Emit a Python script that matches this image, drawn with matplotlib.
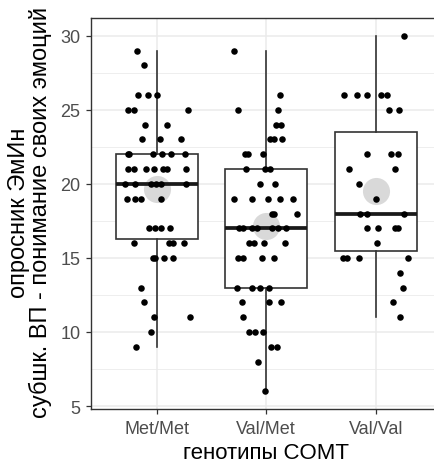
#!/usr/bin/env python3
"""Boxplot + jitter of EmIn subscale scores by COMT genotype."""
import matplotlib

matplotlib.use("Agg")
import matplotlib.pyplot as plt
import numpy as np
from matplotlib.ticker import MultipleLocator

plt.rcParams["font.family"] = ["Liberation Sans", "DejaVu Sans"]

genotypes = ["Met/Met", "Val/Met", "Val/Val"]

met_met_vals = [29, 28, 26, 26, 26, 25, 25, 25, 24, 24, 23, 23, 23,
                22, 22, 22, 22, 22, 22, 21, 21, 21, 21, 21, 21, 21,
                20, 20, 20, 20, 20, 20, 19, 19, 19, 19, 17, 17, 17, 17,
                16, 16, 16, 16, 15, 15, 15, 15, 13, 12, 11, 11, 10, 9]
met_met_jitter = [-0.18, -0.116, -0.17, -0.076, 0.003, -0.26, -0.21, 0.29, -0.11, 0.09,
                  -0.13, 0.03, 0.22, -0.26, -0.25, -0.03, 0.046, 0.13, 0.26,
                  -0.26, -0.21, -0.094, -0.027, 0.055, 0.097, 0.27,
                  -0.29, -0.2, -0.055, -0.006, 0.043, 0.27, -0.27, -0.2, -0.14, 0.037,
                  -0.07, -0.012, 0.04, 0.12, -0.21, 0.116, 0.149, 0.25,
                  -0.033, -0.02, 0.067, 0.146, -0.143, -0.12, -0.027, 0.30, -0.05, -0.186]

val_met_vals = [29, 26, 25, 25, 24, 24, 23, 23, 23, 22, 22, 22, 21, 21, 21, 20, 20,
                19, 19, 19, 19, 19, 18, 18, 18, 17, 17, 17, 17, 17, 17, 17,
                16, 16, 16, 16, 15, 15, 15, 15, 13, 13, 13, 13, 12, 12, 12,
                11, 10, 10, 10, 9, 9, 8, 6]
val_met_jitter = [-0.29, 0.125, -0.256, 0.11, 0.085, 0.137, 0.037, 0.067, 0.14,
                  -0.19, -0.17, -0.027, -0.186, -0.012, 0.033, -0.058, 0.076,
                  -0.29, -0.128, 0.018, 0.128, 0.24, 0.28, 0.05, 0.07,
                  -0.25, -0.21, -0.128, -0.088, 0.049, 0.11, 0.18,
                  -0.158, -0.113, -0.021, 0.174, -0.26, -0.216, -0.043, 0.07,
                  -0.265, -0.134, -0.055, 0.027, -0.225, 0.024, 0.137,
                  -0.21, -0.158, -0.1, -0.03, 0.04, 0.1, -0.073, -0.015]

val_val_vals = [30, 26, 26, 26, 26, 26, 25, 25, 22, 22, 22, 21, 21, 20, 19,
                18, 18, 18, 17, 17, 17, 17, 16, 15, 15, 15, 15, 14, 13, 12, 11]
val_val_jitter = [0.256, -0.286, -0.17, -0.076, 0.046, 0.1, 0.12, 0.216,
                  -0.076, 0.137, 0.2, -0.24, 0.177, -0.155, 0.003,
                  -0.14, -0.08, 0.26, -0.08, 0.018, 0.177, 0.204, 0.012,
                  -0.295, -0.265, -0.152, 0.295, 0.222, 0.253, 0.16, 0.222]

groups = [met_met_vals, val_met_vals, val_val_vals]
jitters = [met_met_jitter, val_met_jitter, val_val_jitter]

W, H = 434, 464
fig = plt.figure(figsize=(W / 100, H / 100), dpi=100)
# panel runs past the right edge, as in the reference
ax = fig.add_axes([91 / W, 54 / H, 350.5 / W, 391 / H])

pos = np.arange(1, len(genotypes) + 1)
ax.boxplot(groups, positions=pos, widths=0.75, whis=1.5, showcaps=False,
           showfliers=False, patch_artist=True,
           boxprops=dict(facecolor="white", edgecolor="#333333", linewidth=1.2, zorder=2),
           whiskerprops=dict(color="#333333", linewidth=1.2, zorder=2),
           medianprops=dict(color="#1a1a1a", linewidth=2.7, zorder=4))

means = [np.mean(g) for g in groups]
ax.plot(pos, means, "o", ms=19.5, color="#d9d9d9", mec="none", zorder=3)

for p, vals, jit in zip(pos, groups, jitters):
    ax.plot(p + np.array(jit), vals, "o", ms=4.7, color="black", mec="none", zorder=5)

ax.set_xlim(0.4, 3.6)
ax.set_ylim(4.8, 31.2)
ax.set_xticks(pos)
ax.set_xticklabels(genotypes)
ax.yaxis.set_major_locator(MultipleLocator(5))
ax.yaxis.set_minor_locator(MultipleLocator(2.5))
ax.grid(True, which="major", color="#ebebeb", linewidth=1.1, zorder=0)
ax.grid(True, which="minor", axis="y", color="#ebebeb", linewidth=0.6, zorder=0)
ax.set_axisbelow(True)
ax.tick_params(which="major", length=3.6, width=0.9, color="#333333",
               labelsize=13, labelcolor="#4d4d4d")
ax.tick_params(axis="x", pad=4)
ax.tick_params(axis="y", pad=4)
ax.tick_params(which="minor", length=0)
for s in ax.spines.values():
    s.set_color("#333333")
    s.set_linewidth(1.0)

ax.set_xlabel("генотипы COMT", fontsize=16)
ax.set_ylabel("опросник ЭмИн\nсубшк. ВП - понимание своих эмоций",
              fontsize=17, linespacing=0.92)
ax.xaxis.set_label_coords(0.5, -(443 - 410) / 391)
ax.yaxis.set_label_coords(-(91 - 52) / 350.5, 0.504)

fig.savefig("out.png", dpi=100)
